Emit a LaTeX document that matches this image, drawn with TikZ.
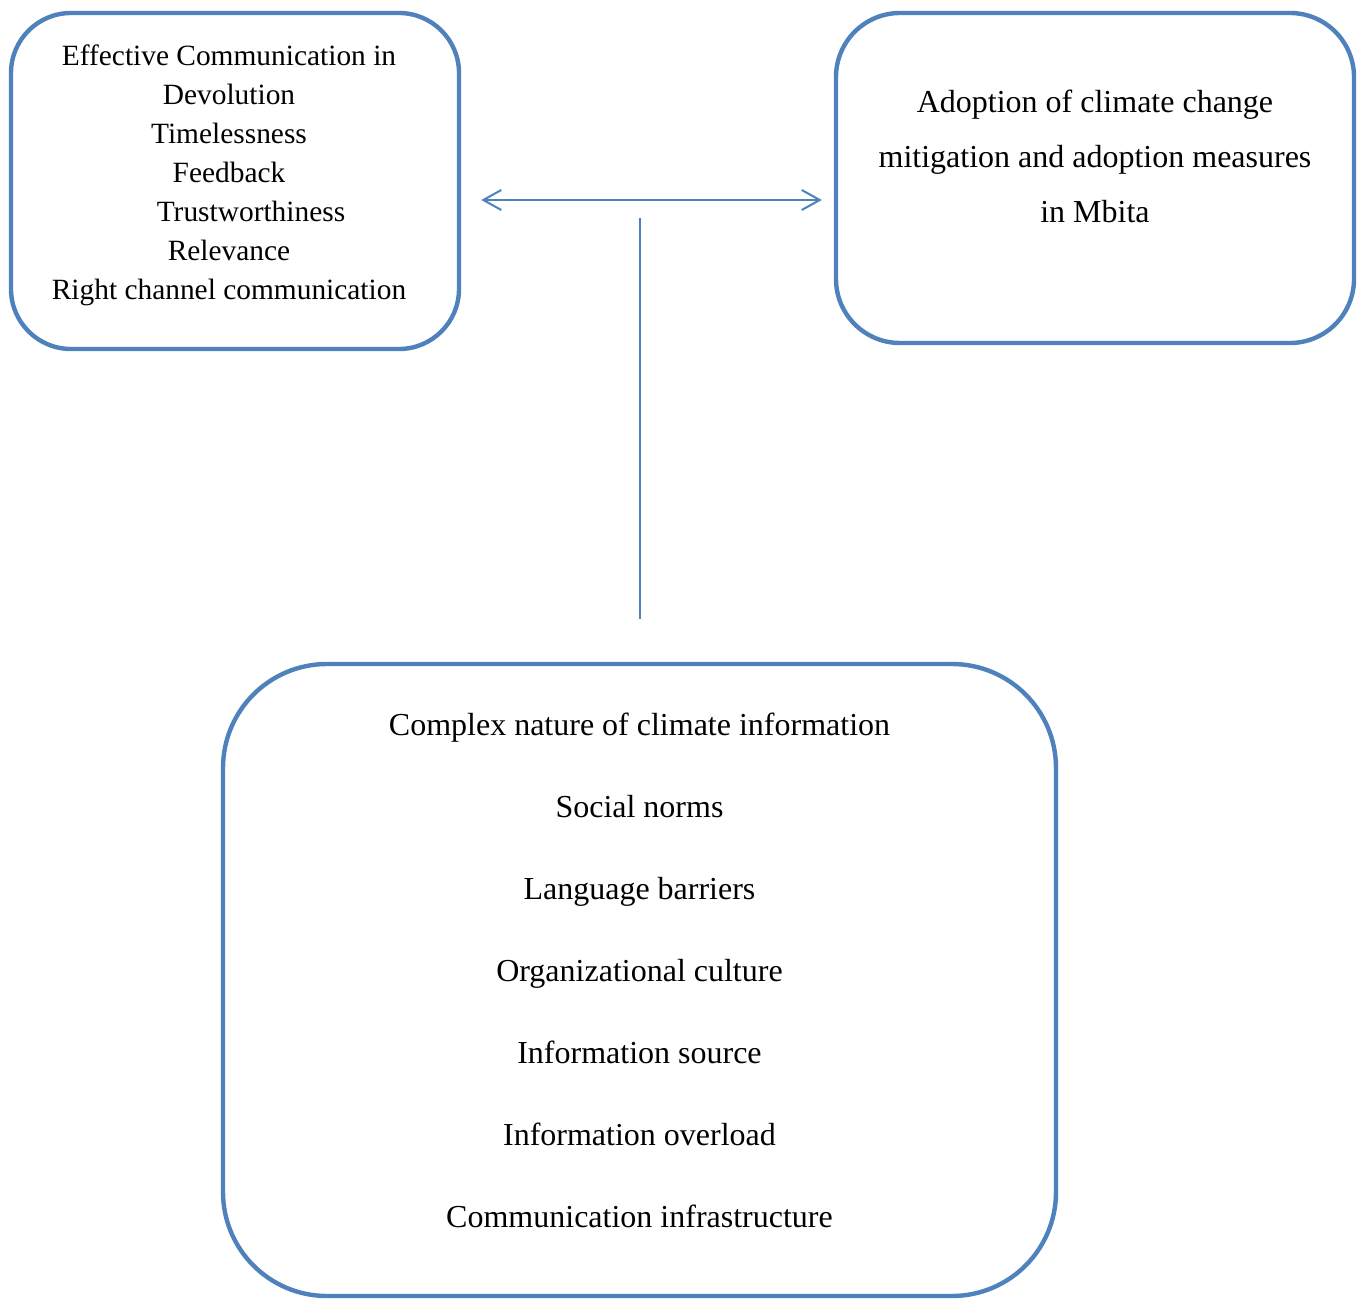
\documentclass[tikz,border=0pt]{standalone}
\usepackage{fontspec}
\setmainfont{Liberation Serif}
\usetikzlibrary{arrows.meta}
\definecolor{boxblue}{HTML}{4F81BD}
\tikzset{
  frame box/.style={
    draw=boxblue,
    line width=2.2pt,
    inner sep=0pt,
    rectangle
  },
  box text/.style={
    align=center,
    inner sep=0pt,
    text=black
  },
  link/.style={
    draw=boxblue,
    line width=1pt
  }
}

\begin{document}
\begin{tikzpicture}[x=0.5pt,y=-0.5pt]
  \useasboundingbox (0,0) rectangle (1360,1300);
  \node[frame box,rounded corners=30pt,minimum width=224pt,minimum height=168pt] (eff) at (235,181) {};
  \node[frame box,rounded corners=32pt,minimum width=259pt,minimum height=165pt] (adopt) at (1095,178) {};
  \node[frame box,rounded corners=52pt,minimum width=416.5pt,minimum height=316pt] (barr) at (639.5,980) {};
  \node[box text,font=\fontsize{14.7}{19.5}\selectfont] (efftext) at (229,175) {Effective Communication in\\ Devolution\\ Timelessness\\ Feedback\\ \hspace*{22pt}Trustworthiness\\ Relevance\\ Right channel communication};
  \node[box text,font=\fontsize{16}{27.5}\selectfont] (adopttext) at (1095,156) {Adoption of climate change\\ mitigation and adoption measures\\ in Mbita};
  \node[box text,font=\fontsize{16}{41}\selectfont] (barrtext) at (639.5,970) {Complex nature of climate information\\ Social norms\\ Language barriers\\ Organizational culture\\ Information source\\ Information overload\\ Communication infrastructure};
  \coordinate (tee) at (639.5,218);
  \draw[link,{Straight Barb[length=9pt,width=10pt]}-{Straight Barb[length=9pt,width=10pt]},shorten <=10pt,shorten >=6pt] (eff.east |- 0,200) -- (adopt.west |- 0,200);
  \draw[link,shorten <=21.5pt] (barr.north) -- (tee);
\end{tikzpicture}
\end{document}
